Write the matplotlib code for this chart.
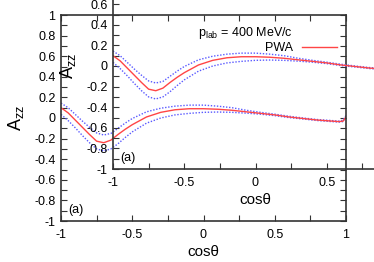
import numpy as np
import matplotlib
matplotlib.use("Agg")
import matplotlib.pyplot as plt
from matplotlib.ticker import MultipleLocator
from matplotlib.lines import Line2D

plt.rcParams['font.family'] = ['Liberation Sans', 'DejaVu Sans']
plt.rcParams['mathtext.fontset'] = 'custom'
plt.rcParams['mathtext.rm'] = 'Liberation Sans'
plt.rcParams['mathtext.it'] = 'Liberation Sans:italic'
plt.rcParams['axes.unicode_minus'] = False

# cos(theta) grid
cos_t = [-1.0, -0.95, -0.9, -0.85, -0.8, -0.75, -0.7, -0.65, -0.6, -0.55, -0.5,
         -0.4, -0.3, -0.2, -0.1, 0.0, 0.1, 0.2, 0.3, 0.4, 0.5, 0.6, 0.7, 0.8,
         0.9, 0.95, 0.98, 1.0]
# PWA central curve
azz_pwa = [0.10, 0.05, -0.02, -0.09, -0.16, -0.225, -0.24, -0.215, -0.16, -0.11, -0.065,
           0.01, 0.055, 0.08, 0.09, 0.09, 0.085, 0.075, 0.06, 0.045, 0.03, 0.01, -0.005, -0.02,
           -0.03, -0.035, -0.03, 0.01]
# error band (blue dotted)
azz_up = [0.145, 0.10, 0.035, -0.03, -0.09, -0.145, -0.165, -0.15, -0.10, -0.05, -0.005,
          0.06, 0.095, 0.115, 0.125, 0.125, 0.115, 0.10, 0.075, 0.055, 0.037, 0.017, 0.0, -0.015,
          -0.025, -0.03, -0.022, 0.025]
azz_lo = [0.035, -0.025, -0.095, -0.17, -0.24, -0.30, -0.32, -0.30, -0.25, -0.19, -0.135,
          -0.05, 0.0, 0.03, 0.045, 0.055, 0.058, 0.055, 0.047, 0.037, 0.023, 0.004, -0.01, -0.025,
          -0.035, -0.04, -0.035, 0.015]

xticks = [-1, -0.5, 0, 0.5, 1]
xtick_labels = ['-1', '-0.5', '0', '0.5', '1']
yticks = [-1, -0.8, -0.6, -0.4, -0.2, 0, 0.2, 0.4, 0.6, 0.8, 1]
ytick_labels = ['-1', '-0.8', '-0.6', '-0.4', '-0.2', '0', '0.2', '0.4', '0.6', '0.8', '1']

RED = '#ff4545'
BLUE = '#5a5aff'
FRAME = '#333333'


def draw(ax, key=True):
    ax.plot(cos_t, azz_up, color=BLUE, lw=1.0, ls=(0, (1, 1.2)))
    ax.plot(cos_t, azz_lo, color=BLUE, lw=1.0, ls=(0, (1, 1.2)))
    ax.plot(cos_t, azz_pwa, color=RED, lw=1.0)
    ax.set_xlim(-1, 1)
    ax.set_ylim(-1, 1)
    ax.set_xticks(xticks)
    ax.set_xticklabels(xtick_labels)
    ax.set_yticks(yticks)
    ax.set_yticklabels(ytick_labels)
    ax.xaxis.set_minor_locator(MultipleLocator(0.25))
    ax.yaxis.set_minor_locator(MultipleLocator(0.1))
    ax.tick_params(which='both', direction='in', top=True, right=True,
                   color=FRAME, width=0.8, labelsize=9, length=4)
    ax.tick_params(axis='x', pad=6)
    ax.tick_params(axis='y', pad=4)
    for s in ax.spines.values():
        s.set_color(FRAME)
        s.set_linewidth(1.2)
    ax.set_xlabel('cosθ', fontsize=11, labelpad=3)
    ax.set_ylabel(r'$\mathrm{A}_{\mathrm{zz}}$', fontsize=13, labelpad=6)
    ax.text(0.025, 0.055, '(a)', transform=ax.transAxes, fontsize=9, va='center')
    if key:
        ax.text(0.814, 0.913, r'p$_{\mathrm{lab}}$ = 400 MeV/c', transform=ax.transAxes,
                fontsize=9, ha='right', va='center')
        h = Line2D([], [], color=RED, lw=1.0)
        ax.legend([h], ['PWA'], loc='center right', bbox_to_anchor=(0.968, 0.84),
                  frameon=False, markerfirst=False, fontsize=9,
                  handlelength=2.8, handletextpad=0.75,
                  borderpad=0, borderaxespad=0)


W, H = 374, 262
fig = plt.figure(figsize=(W / 100, H / 100), dpi=100)

# back copy
ax1 = fig.add_axes([61 / W, (H - 221) / H, 285 / W, 206 / H])
draw(ax1)
# front copy, shifted up and right (its key falls outside the picture)
ax2 = fig.add_axes([113 / W, (H - 169) / H, 285 / W, 206 / H])
ax2.patch.set_visible(False)
draw(ax2, key=False)

fig.savefig('out.png', dpi=100)
